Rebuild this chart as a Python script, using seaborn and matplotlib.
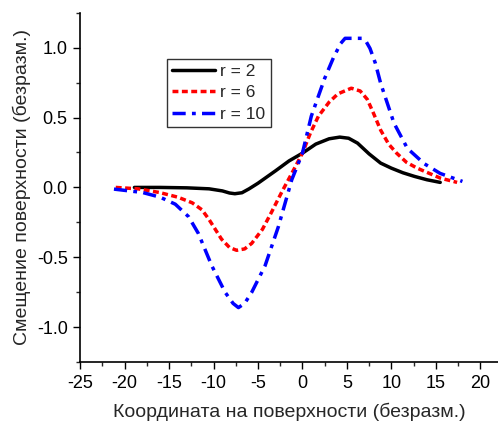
import numpy as np
import pandas as pd
import seaborn as sns
import matplotlib.pyplot as plt
from matplotlib.ticker import MultipleLocator

# values
x_r2 = [-18.9, -16.0, -13.0, -10.5, -9.0, -8.2, -7.6, -6.8, -6.0, -5.0, -4.0, -3.0, -1.5, 0.0, 1.5, 3.0, 4.2, 5.2, 6.2, 7.5, 8.8, 10.0, 11.3, 12.6, 14.0, 15.5]
y_r2 = [0.0, 0.0, -0.003, -0.01, -0.025, -0.04, -0.045, -0.038, -0.01, 0.03, 0.075, 0.12, 0.19, 0.245, 0.31, 0.348, 0.36, 0.352, 0.317, 0.24, 0.174, 0.138, 0.105, 0.079, 0.055, 0.036]

x_r6 = [-21.0, -18.5, -16.1, -14.0, -12.4, -11.3, -10.5, -9.8, -9.1, -8.2, -7.4, -6.5, -5.7, -4.5, -3.5, -2.3, -1.2, 0.0, 0.9, 1.8, 3.0, 4.0, 5.5, 6.5, 7.3, 8.0, 8.8, 9.7, 10.6, 11.7, 12.9, 15.5, 17.4]
y_r6 = [0.0, -0.01, -0.036, -0.07, -0.11, -0.16, -0.23, -0.30, -0.37, -0.43, -0.45, -0.44, -0.40, -0.30, -0.18, -0.03, 0.10, 0.245, 0.39, 0.51, 0.61, 0.67, 0.71, 0.69, 0.63, 0.53, 0.41, 0.31, 0.245, 0.18, 0.138, 0.067, 0.036]

x_r10 = [-21.2, -18.0, -16.0, -14.3, -12.8, -11.7, -10.2, -8.7, -7.8, -7.2, -6.5, -5.7, -4.2, -2.7, -1.2, 0.0, 1.0, 2.5, 3.5, 4.3, 4.8, 6.7, 7.2, 7.6, 8.2, 8.8, 10.3, 11.8, 13.7, 15.5, 18.0]
y_r10 = [-0.012, -0.036, -0.07, -0.12, -0.21, -0.33, -0.56, -0.75, -0.83, -0.86, -0.83, -0.75, -0.56, -0.28, 0.055, 0.245, 0.51, 0.78, 0.93, 1.03, 1.067, 1.067, 1.04, 0.995, 0.89, 0.745, 0.46, 0.28, 0.17, 0.10, 0.043]

labels = ["r = 2", "r = 6", "r = 10"]

df = pd.concat([
    pd.DataFrame({"x": x_r2, "y": y_r2, "r": labels[0]}),
    pd.DataFrame({"x": x_r6, "y": y_r6, "r": labels[1]}),
    pd.DataFrame({"x": x_r10, "y": y_r10, "r": labels[2]}),
])

sns.set_theme(style="ticks")
plt.rcParams["font.family"] = ["Liberation Sans", "DejaVu Sans"]
plt.rcParams["axes.unicode_minus"] = False

fig = plt.figure(figsize=(4.98, 4.25), dpi=100)
ax = fig.add_axes([0.161, 0.148, 0.839, 0.822])

palette = {labels[0]: "black", labels[1]: "#ff0000", labels[2]: "#0000ff"}
dashes = {labels[0]: "", labels[1]: (1.7, 1.0), labels[2]: (3.8, 1.8, 1.1, 1.8)}
ax = sns.lineplot(data=df, x="x", y="y", hue="r", style="r", palette=palette,
                  dashes=dashes, sort=False, estimator=None, linewidth=2.5, ax=ax)
for ln in ax.get_lines():
    ln.set_solid_joinstyle("round")
    ln.set_dash_joinstyle("round")

ax.set_xlim(-25, 22)
ax.set_ylim(-1.25, 1.25)
ax.xaxis.set_major_locator(MultipleLocator(5))
ax.xaxis.set_minor_locator(MultipleLocator(2.5))
ax.yaxis.set_major_locator(MultipleLocator(0.5))
ax.yaxis.set_minor_locator(MultipleLocator(0.25))
ax.tick_params(which="major", length=5, width=1, labelsize=13, colors="black", pad=4)
ax.tick_params(which="minor", length=3, width=1)
for s in ["top", "right"]:
    ax.spines[s].set_visible(False)
for s in ["left", "bottom"]:
    ax.spines[s].set_color("black")
    ax.spines[s].set_linewidth(1.2)

ax.set_xlabel("Координата на поверхности (безразм.)", fontsize=14, labelpad=8)
ax.set_ylabel("Смещение поверхности (безразм.)", fontsize=14, labelpad=4)

handles, labs = ax.get_legend_handles_labels()
leg = ax.legend(handles, labs, loc="upper left", bbox_to_anchor=(0.207, 0.868),
                fontsize=12.5, frameon=True, fancybox=False, edgecolor="black",
                handlelength=2.5, handletextpad=0.3, borderpad=0.3,
                labelspacing=0.35, borderaxespad=0)
leg.get_frame().set_linewidth(1.0)

fig.savefig("out.png", dpi=100)
